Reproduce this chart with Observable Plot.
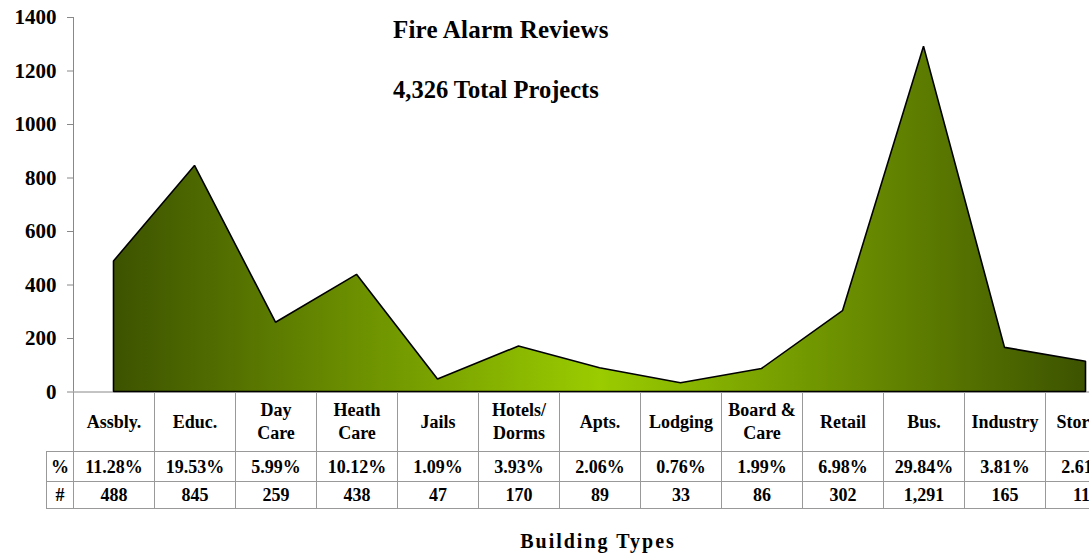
<!DOCTYPE html>
<html>
<head>
<meta charset="utf-8">
<script src="https://cdn.jsdelivr.net/npm/d3@7"></script>
<script src="https://cdn.jsdelivr.net/npm/@observablehq/plot@0.6"></script>
<style>
  html, body { margin: 0; padding: 0; background: #fff; overflow: hidden; }
  #wrap { position: relative; width: 1089px; height: 560px; overflow: hidden; background: #fff;
          font-family: "Liberation Serif", "Times New Roman", serif; color: #000; }
  #wrap svg { max-width: none !important; display: block; position: absolute; left: 0; }
  #wrap svg text { fill: #000; }
  .t { position: absolute; font-weight: bold; white-space: nowrap; line-height: 1; }
</style>
</head>
<body>
<div id="wrap">
  <div class="t" id="title" style="left:393px; top:17px; font-size:25px; letter-spacing:0.2px;">Fire Alarm Reviews</div>
  <div class="t" id="subtitle" style="left:393px; top:78px; font-size:24.5px;">4,326 Total Projects</div>
  <div class="t" id="xlabel" style="left:0; width:1196px; text-align:center; top:531px; font-size:20px; letter-spacing:2px;">Building Types</div>
</div>
<script>
// ---- data ----
const categories = ["Assbly.", "Educ.", "Day\nCare", "Heath\nCare", "Jails", "Hotels/\nDorms", "Apts.", "Lodging", "Board &\nCare", "Retail", "Bus.", "Industry", "Storage"];
const projectCounts = [488, 845, 259, 438, 47, 170, 89, 33, 86, 302, 1291, 165, 113];
const percentShares = [11.28, 19.53, 5.99, 10.12, 1.09, 3.93, 2.06, 0.76, 1.99, 6.98, 29.84, 3.81, 2.61];
const yTickValues = [0, 200, 400, 600, 800, 1000, 1200, 1400];
const rowLabels = ["%", "#"];

const data = categories.map((c, i) => ({ i, cat: c, count: projectCounts[i], pct: percentShares[i] }));

// ---- layout ----
const COL = 81, LEFT = 73;
const W = LEFT + COL * categories.length;
const xOpts = { domain: [-0.5, categories.length - 0.5], axis: null };
const baseStyle = { fontFamily: '"Liberation Serif", "Times New Roman", serif', fontWeight: "bold", color: "#888", background: "transparent", overflow: "visible" };

const wrap = document.getElementById("wrap");

const chart = Plot.plot({
  width: W, height: 392,
  marginLeft: LEFT, marginRight: 0, marginTop: 17, marginBottom: 0.5,
  x: xOpts,
  y: { domain: [0, 1400], ticks: yTickValues, tickSize: 6, tickPadding: 11, label: null, tickFormat: d => String(d) },
  style: { ...baseStyle, fontSize: "21px" },
  marks: [
    Plot.ruleX([-0.5], { stroke: "#888" }),
    Plot.ruleY([0], { stroke: "#888" }),
    Plot.areaY(data, { x: "i", y: "count", fill: "url(#fireGrad)", stroke: "#000", strokeWidth: 1.6, strokeLinejoin: "miter" })
  ]
});
chart.style.top = "0px";

// gradient definition
const ns = "http://www.w3.org/2000/svg";
const defs = document.createElementNS(ns, "defs");
const grad = document.createElementNS(ns, "linearGradient");
grad.setAttribute("id", "fireGrad");
grad.setAttribute("x1", "0"); grad.setAttribute("x2", "1");
grad.setAttribute("y1", "0"); grad.setAttribute("y2", "0");
[["0", "#3d5300"], ["0.5", "#9acc00"], ["1", "#3d5300"]].forEach(([o, c]) => {
  const s = document.createElementNS(ns, "stop");
  s.setAttribute("offset", o); s.setAttribute("stop-color", c);
  grad.appendChild(s);
});
defs.appendChild(grad);
chart.insertBefore(defs, chart.firstChild);
wrap.appendChild(chart);

// ---- data table under the chart ----
const HEAD_B = 59, PCT_B = 89, NUM_B = 116;
const labelColLeft = -0.5 - 27 / COL;
const table = Plot.plot({
  width: W, height: 120,
  marginLeft: LEFT, marginRight: 0, marginTop: 0, marginBottom: 0,
  x: xOpts,
  y: { domain: [0, 120], range: [0, 120], axis: null },
  style: { ...baseStyle, fontSize: "18px" },
  marks: [
    Plot.ruleX(d3.range(categories.length + 1).map(k => k - 0.5), { y1: 0, y2: NUM_B, stroke: "#999" }),
    Plot.ruleX([labelColLeft], { y1: HEAD_B, y2: NUM_B, stroke: "#999" }),
    Plot.ruleY([HEAD_B, PCT_B, NUM_B], { x1: labelColLeft, x2: categories.length - 0.5, stroke: "#999" }),
    Plot.text(data, { x: "i", y: HEAD_B / 2 - 2, text: "cat", lineHeight: 1.3, fill: "#000" }),
    Plot.text(data, { x: "i", y: (HEAD_B + PCT_B) / 2 + 1, text: d => d.pct.toFixed(2) + "%", fill: "#000" }),
    Plot.text(data, { x: "i", y: (PCT_B + NUM_B) / 2 + 0.5, text: d => d.count.toLocaleString("en-US"), fill: "#000" }),
    Plot.text(rowLabels, { x: (labelColLeft - 0.5) / 2, y: [(HEAD_B + PCT_B) / 2 + 1, (PCT_B + NUM_B) / 2 + 0.5], text: d => d, fill: "#000" })
  ]
});
table.style.top = "392px";
wrap.appendChild(table);
</script>
</body>
</html>
